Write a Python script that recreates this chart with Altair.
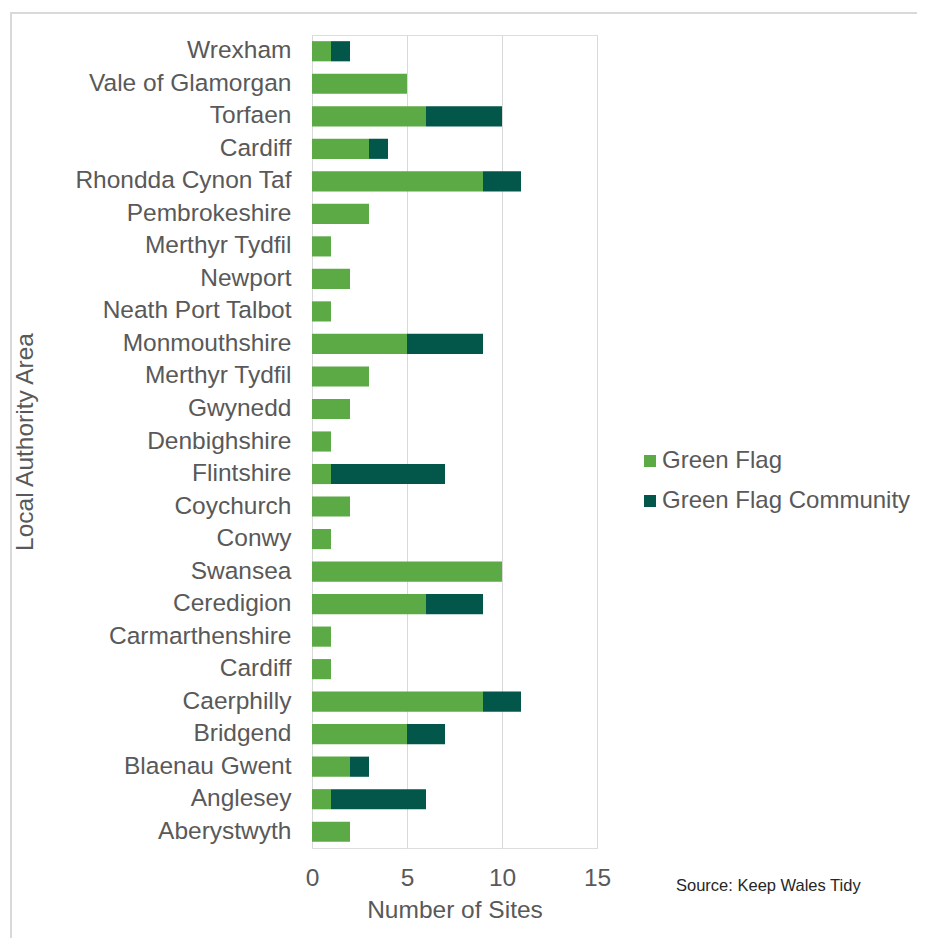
import altair as alt
import pandas as pd

areas = ["Wrexham", "Vale of Glamorgan", "Torfaen", "Cardiff", "Rhondda Cynon Taf",
         "Pembrokeshire", "Merthyr Tydfil", "Newport", "Neath Port Talbot", "Monmouthshire",
         "Merthyr Tydfil", "Gwynedd ", "Denbighshire", "Flintshire", "Coychurch", "Conwy",
         "Swansea", "Ceredigion", "Carmarthenshire", "Cardiff", "Caerphilly", "Bridgend",
         "Blaenau Gwent", "Anglesey", "Aberystwyth"]
green_flag = [1, 5, 6, 3, 9, 3, 1, 2, 1, 5, 3, 2, 1, 1, 2, 1, 10, 6, 1, 1, 9, 5, 2, 1, 2]
green_flag_community = [1, 0, 4, 1, 2, 0, 0, 0, 0, 4, 0, 0, 0, 6, 0, 0, 0, 3, 0, 0, 2, 2, 1, 5, 0]
series = ["Green Flag", "Green Flag Community"]
colors = ["#5BAA46", "#02574A"]
x_ticks = [0, 5, 10, 15]

rows = []
for i, name in enumerate(areas):
    key = f"{i:02d}"
    rows.append({"key": key, "series": series[0], "value": green_flag[i], "ord": 0})
    rows.append({"key": key, "series": series[1], "value": green_flag_community[i], "ord": 1})
df = pd.DataFrame(rows)
keys = [f"{i:02d}" for i in range(len(areas))]

label_arr = "[" + ",".join("'" + a.replace("'", "\\'") + "'" for a in areas) + "]"
FONT = "Liberation Sans"
GREY = "#595959"
FS = 24.5

bars = alt.Chart(df).mark_bar().encode(
    x=alt.X("value:Q", stack="zero",
            scale=alt.Scale(domain=[0, 15], nice=False),
            axis=alt.Axis(values=x_ticks, title="Number of Sites", grid=True,
                          gridColor="#D9D9D9", gridWidth=1, domain=False, ticks=False,
                          labelFlush=False,
                          labelFontSize=FS, labelColor=GREY, labelPadding=18,
                          labelFont=FONT, titleFont=FONT, titleFontSize=FS,
                          titleColor=GREY, titleFontWeight="normal",
                          titleY=62, titleBaseline="middle")),
    y=alt.Y("key:N", sort=keys,
            scale=alt.Scale(paddingInner=0.38, paddingOuter=0.19),
            axis=alt.Axis(title="Local Authority Area", domain=False, ticks=False,
                          labelExpr=f"{label_arr}[toNumber(datum.value)]",
                          labelFontSize=FS, labelColor=GREY, labelFont=FONT,
                          labelPadding=21, labelLimit=400, titleFont=FONT, titleFontSize=FS,
                          titleColor=GREY, titleFontWeight="normal",
                          titleAngle=270, titleX=-287, titleY=406.5,
                          titleAlign="center", titleBaseline="middle")),
    color=alt.Color("series:N", scale=alt.Scale(domain=series, range=colors),
                    legend=alt.Legend(title=None, orient="none", legendX=326, legendY=414,
                                      symbolType="square", symbolSize=144,
                                      symbolStrokeWidth=0, labelFontSize=24,
                                      labelFont=FONT, labelColor=GREY, rowPadding=16,
                                      labelOffset=0, labelLimit=400)),
    order=alt.Order("ord:Q"),
)

source = alt.Chart(pd.DataFrame({"t": ["Source: Keep Wales Tidy"]})).mark_text(
    align="left", baseline="middle", fontSize=16.5, font=FONT, color="#262626"
).encode(x=alt.value(364), y=alt.value(851), text="t:N")

border_left = alt.Chart(pd.DataFrame({"a": [0]})).mark_rule(
    color="#D9D9D9", strokeWidth=2
).encode(x=alt.value(-301), y=alt.value(-23), y2=alt.value(920))

border_top = alt.Chart(pd.DataFrame({"a": [0]})).mark_rule(
    color="#D9D9D9", strokeWidth=2
).encode(x=alt.value(-302), x2=alt.value(640), y=alt.value(-22))

chart = alt.layer(border_left, border_top, bars, source).properties(
    width=285, height=813,
    autosize=alt.AutoSizeParams(type="none"),
    padding={"left": 304, "top": 27, "right": 320, "bottom": 90},
).configure_view(stroke=None).configure(background="white")

chart.save("out.html", embed_options={"renderer": "svg", "actions": False})
